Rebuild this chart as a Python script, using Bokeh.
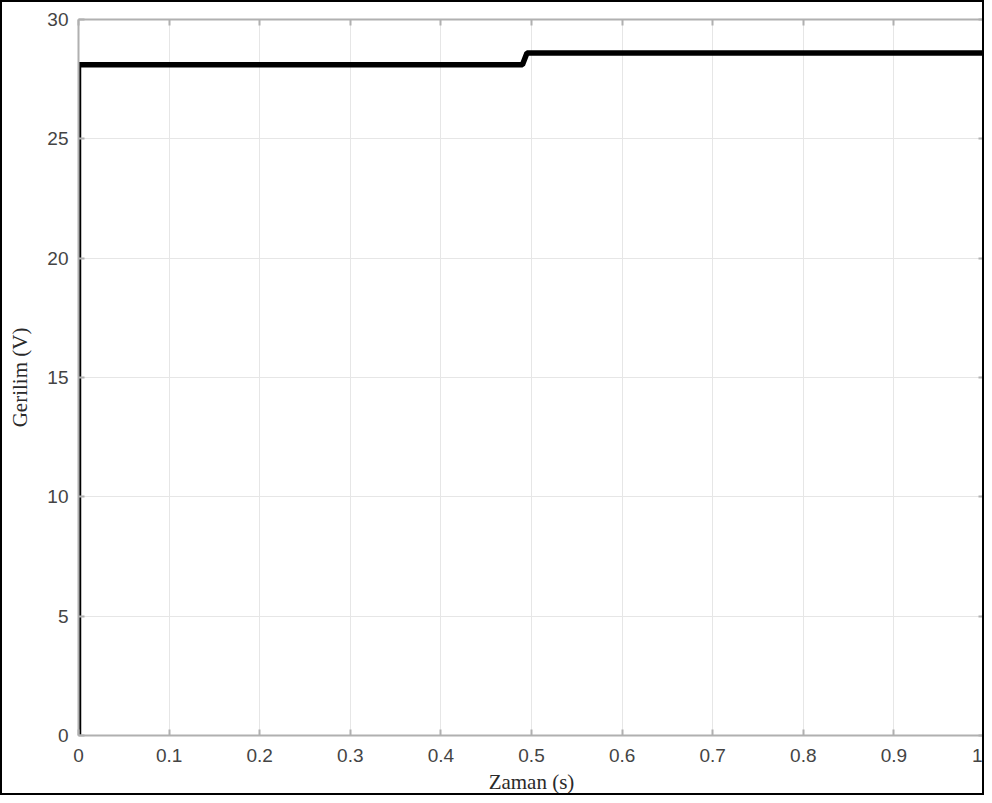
from bokeh.plotting import figure
from bokeh.models import FixedTicker, LinearAxis, Range1d, NumeralTickFormatter, CustomJSTickFormatter
from bokeh.embed import file_html
from bokeh.resources import INLINE

# Data
time_s = [0.0, 0.0, 0.49, 0.495, 1.0]
voltage_v = [0.0, 28.1, 28.1, 28.6, 28.6]
x_ticks = [0, 0.1, 0.2, 0.3, 0.4, 0.5, 0.6, 0.7, 0.8, 0.9, 1.0]
y_ticks = [0, 5, 10, 15, 20, 25, 30]

p = figure(width=984, height=795, output_backend="svg", toolbar_location=None,
           x_range=Range1d(0, 1), y_range=Range1d(0, 30),
           min_border_left=76, min_border_top=17, min_border_right=2, min_border_bottom=62,
           x_axis_label="Zaman (s)", y_axis_label="Gerilim (V)")
p.styles = {"border": "2px solid black", "box-sizing": "border-box"}
p.outline_line_color = None
p.background_fill_color = "white"
p.border_fill_color = "white"

p.line(time_s, voltage_v, line_color="black", line_width=5.5)

axis_color = "#b0b0b0"
label_color = "#444444"
for ax in p.xaxis:
    ax.ticker = FixedTicker(ticks=x_ticks)
    ax.formatter = NumeralTickFormatter(format="0.[0]")
for ax in p.yaxis:
    ax.ticker = FixedTicker(ticks=y_ticks)
for ax in list(p.xaxis) + list(p.yaxis):
    ax.axis_line_color = axis_color
    ax.axis_line_width = 2
    ax.major_tick_line_color = axis_color
    ax.major_tick_line_width = 2
    ax.major_tick_in = 6
    ax.major_tick_out = 0
    ax.minor_tick_line_color = None
    ax.major_label_text_font = "Liberation Sans"
    ax.major_label_text_font_size = "19px"
    ax.major_label_text_color = label_color
    ax.major_label_standoff = 10
    ax.axis_label_text_font = "Liberation Serif"
    ax.axis_label_text_font_size = "21px"
    ax.axis_label_text_font_style = "normal"
    ax.axis_label_text_color = "#2a2a2a"
p.xaxis.major_label_standoff = 13
p.xaxis.axis_label_standoff = 5
p.yaxis.axis_label_standoff = 12

blank = CustomJSTickFormatter(code="return ''")
top = LinearAxis(ticker=FixedTicker(ticks=x_ticks), formatter=blank,
                 axis_line_color=axis_color, axis_line_width=2, major_tick_line_color=axis_color,
                 major_tick_line_width=2, major_tick_in=6, major_tick_out=0,
                 minor_tick_line_color=None, major_label_standoff=0)
right = LinearAxis(ticker=FixedTicker(ticks=y_ticks), formatter=blank,
                   axis_line_color=axis_color, axis_line_width=2, major_tick_line_color=axis_color,
                   major_tick_line_width=2, major_tick_in=6, major_tick_out=0,
                   minor_tick_line_color=None, major_label_standoff=0)
p.add_layout(top, "above")
p.add_layout(right, "right")

p.xgrid.ticker = FixedTicker(ticks=x_ticks)
p.ygrid.ticker = FixedTicker(ticks=y_ticks)
p.xgrid.grid_line_color = "#e6e6e6"
p.ygrid.grid_line_color = "#e6e6e6"
p.xgrid.grid_line_width = 1
p.ygrid.grid_line_width = 1

open("out.html", "w").write(file_html(p, INLINE))
